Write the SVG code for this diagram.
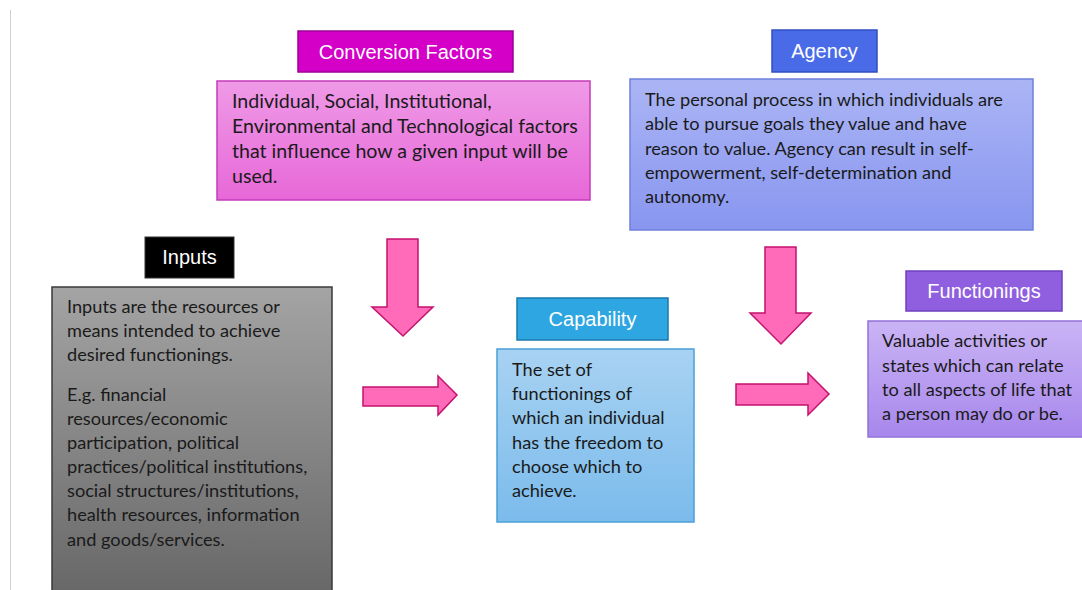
<svg xmlns="http://www.w3.org/2000/svg" width="1082" height="590" viewBox="0 0 1082 590">
<defs>
<linearGradient id="gConv" x1="0" y1="0" x2="0" y2="1"><stop offset="0" stop-color="#ef9ae7"/><stop offset="1" stop-color="#e768d8"/></linearGradient>
<linearGradient id="gAg" x1="0" y1="0" x2="0" y2="1"><stop offset="0" stop-color="#abb5f5"/><stop offset="1" stop-color="#8896ef"/></linearGradient>
<linearGradient id="gIn" x1="0" y1="0" x2="0" y2="1"><stop offset="0" stop-color="#a4a4a4"/><stop offset="1" stop-color="#676767"/></linearGradient>
<linearGradient id="gCap" x1="0" y1="0" x2="0" y2="1"><stop offset="0" stop-color="#a8d2f2"/><stop offset="1" stop-color="#7bbbec"/></linearGradient>
<linearGradient id="gFun" x1="0" y1="0" x2="0" y2="1"><stop offset="0" stop-color="#cab4f5"/><stop offset="1" stop-color="#a787ec"/></linearGradient>
</defs>
<style>
.lbl{font-family:"Liberation Sans",Arial,sans-serif;font-size:20px;fill:#ffffff;text-anchor:middle}
.body{font-family:Lato,"Open Sans",sans-serif;font-size:18.2px;fill:#1a1a1a}
.big{font-size:19.6px}
.arrow{fill:#ff6ab9;stroke:#c4126f;stroke-width:1.5}
</style>
<rect width="1082" height="590" fill="#ffffff"/>
<line x1="10.5" y1="10" x2="10.5" y2="590" stroke="#d0d0d0" stroke-width="1"/>

<g id="conversion-factors">
<rect x="298" y="31" width="215" height="41" fill="#d400c8" stroke="#9c0096" stroke-width="1.5"/>
<text class="lbl" x="405.5" y="58.5">Conversion Factors</text>
<rect x="217" y="81" width="373" height="119" fill="url(#gConv)" stroke="#c43cba" stroke-width="1.5"/>
<text class="body big" x="232" y="108">Individual, Social, Institutional,</text>
<text class="body big" x="232" y="133">Environmental and Technological factors</text>
<text class="body big" x="232" y="158">that influence how a given input will be</text>
<text class="body big" x="232" y="183">used.</text>
</g>

<g id="agency">
<rect x="772" y="30" width="105" height="42" fill="#4a6be8" stroke="#2f4fc0" stroke-width="1.5"/>
<text class="lbl" x="824.5" y="58">Agency</text>
<rect x="630" y="79" width="403" height="151" fill="url(#gAg)" stroke="#6f80dc" stroke-width="1.5"/>
<text class="body" x="645" y="106">The personal process in which individuals are</text>
<text class="body" x="645" y="130">able to pursue goals they value and have</text>
<text class="body" x="645" y="155">reason to value. Agency can result in self-</text>
<text class="body" x="645" y="179">empowerment, self-determination and</text>
<text class="body" x="645" y="203">autonomy.</text>
</g>

<g id="inputs">
<rect x="145" y="237" width="89" height="41" fill="#000000" stroke="#333333" stroke-width="1"/>
<text class="lbl" x="189.5" y="264">Inputs</text>
<rect x="52" y="287" width="280" height="310" fill="url(#gIn)" stroke="#3a3a3a" stroke-width="1.5"/>
<text class="body" x="67" y="313">Inputs are the resources or</text>
<text class="body" x="67" y="337">means intended to achieve</text>
<text class="body" x="67" y="361">desired functionings.</text>
<text class="body" x="67" y="401">E.g. financial</text>
<text class="body" x="67" y="425">resources/economic</text>
<text class="body" x="67" y="449">participation, political</text>
<text class="body" x="67" y="473">practices/political institutions,</text>
<text class="body" x="67" y="497">social structures/institutions,</text>
<text class="body" x="67" y="521">health resources, information</text>
<text class="body" x="67" y="546">and goods/services.</text>
</g>

<g id="capability">
<rect x="517" y="298" width="151" height="42" fill="#2ea6e1" stroke="#1a78ae" stroke-width="1.5"/>
<text class="lbl" x="592.5" y="326">Capability</text>
<rect x="497" y="349" width="197" height="173" fill="url(#gCap)" stroke="#4aa0d8" stroke-width="1.5"/>
<text class="body" x="512" y="376">The set of</text>
<text class="body" x="512" y="400">functionings of</text>
<text class="body" x="512" y="424">which an individual</text>
<text class="body" x="512" y="449">has the freedom to</text>
<text class="body" x="512" y="473">choose which to</text>
<text class="body" x="512" y="497">achieve.</text>
</g>

<g id="functionings">
<rect x="906" y="271" width="156" height="40" fill="#905fe0" stroke="#6f40c0" stroke-width="1.5"/>
<text class="lbl" x="984" y="298">Functionings</text>
<rect x="868" y="321" width="216" height="116" fill="url(#gFun)" stroke="#9270d8" stroke-width="1.5"/>
<text class="body" x="882" y="347">Valuable activities or</text>
<text class="body" x="882" y="372">states which can relate</text>
<text class="body" x="882" y="396">to all aspects of life that</text>
<text class="body" x="882" y="420">a person may do or be.</text>
</g>

<g id="connectors">
<polygon class="arrow" points="387,239 418,239 418,307 433,307 403,336 372,307 387,307"/>
<polygon class="arrow" points="363,387 438,387 438,376 457,395 438,415 438,406 363,406"/>
<polygon class="arrow" points="765,247 796,247 796,313 811,313 781,344 750,313 765,313"/>
<polygon class="arrow" points="736,384 808,384 808,373 829,394 808,415 808,405 736,405"/>
</g>
</svg>
